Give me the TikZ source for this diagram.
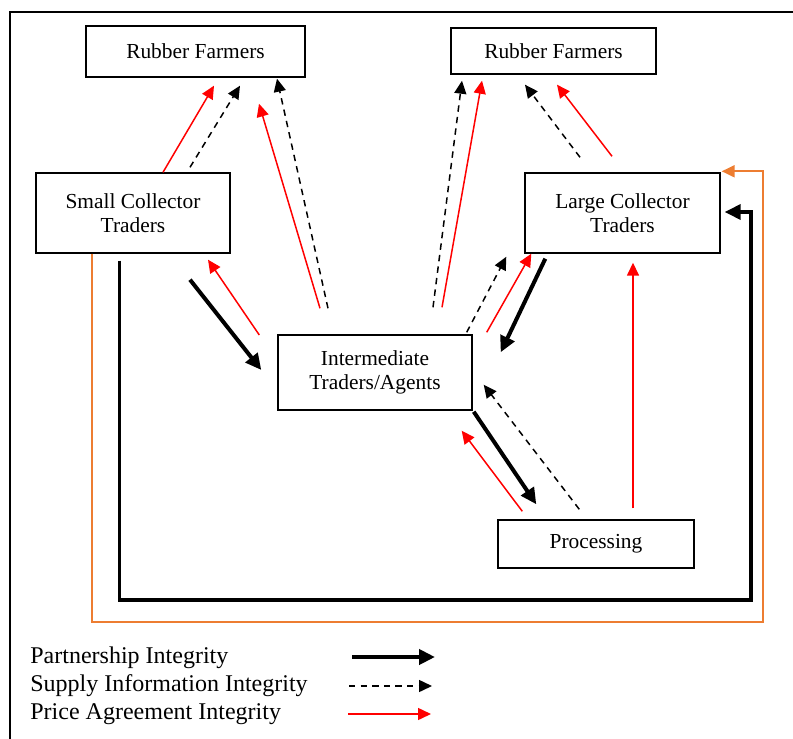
\documentclass[tikz,border=0pt]{standalone}
\usepackage{fontspec}
\setmainfont{Liberation Serif}
\usetikzlibrary{arrows.meta, positioning, calc}
\definecolor{loopOrange}{RGB}{237,125,49}

\begin{document}
\begin{tikzpicture}[
    x=0.5pt, y=-0.5pt,
    actor/.style={rectangle, draw, line width=0.7pt, inner sep=0pt, align=center, font=\fontsize{10.7}{12}\selectfont},
    partner/.style={-{Triangle[length=8pt,width=7.5pt]}, line width=2pt, black},
    supply/.style={-{Triangle[length=6.5pt,width=6pt]}, line width=0.75pt, black, dash pattern=on 3.2pt off 2.6pt},
    price/.style={-{Triangle[length=6.5pt,width=6pt]}, line width=0.75pt, red},
    orangeline/.style={-{Triangle[length=6.5pt,width=6pt]}, line width=1pt, loopOrange},
    legendtext/.style={anchor=west, inner sep=0pt, font=\fontsize{12}{14}\selectfont}
]
    \useasboundingbox (0,0) rectangle (793,739);

    % Frame
    \draw[line width=0.7pt] (10,739) -- (10,12) -- (793,12);

    % Actors
    \node[actor, minimum width=109.5pt, minimum height=25.5pt] (rf1) at (195.5,51.5) {Rubber Farmers};
    \node[actor, minimum width=102.5pt, minimum height=23pt] (rf2) at (553.5,51) {Rubber Farmers};
    \node[actor, minimum width=97pt, minimum height=40pt] (sct) at (133,213) {Small Collector\\Traders};
    \node[actor, minimum width=97.5pt, minimum height=40pt] (lct) at (622.5,213) {Large Collector\\Traders};
    \node[actor, minimum width=97pt, minimum height=37.5pt] (ita) at (375,372.5) {Intermediate\\Traders/Agents};
    \node[actor, minimum width=98pt, minimum height=24pt] (proc) at (596,544) {Processing};

    % Corners of the long loops
    \coordinate (pbr) at (751,600);
    \coordinate (obr) at (763,622);

    % Small collector side
    \draw[price] ($(sct.north)+(30,0)$) -- ($(rf1.south)+(18.5,8)$);
    \draw[supply] ($(sct.north)+(57,-5)$) -- ($(rf1.south)+(44.5,8)$);
    \draw[price] ($(ita.north)+(-55,-26)$) -- ($(rf1.south)+(63.5,26)$);
    \draw[supply] ($(ita.north)+(-47,-26)$) -- ($(rf1.south)+(81.5,1)$);
    \draw[partner] ($(sct.south)+(57,26)$) -- ($(ita.west)+(-16,-2.5)$);
    \draw[price] ($(ita.west)+(-18,-37.5)$) -- ($(sct.south)+(75,6)$);

    % Large collector side
    \draw[supply] ($(ita.north)+(58,-27)$) -- ($(rf2.south)+(-91.5,6)$);
    \draw[price] ($(ita.north)+(67,-27)$) -- ($(rf2.south)+(-71.5,6)$);
    \draw[supply] ($(lct.north)+(-42.5,-15)$) -- ($(rf2.south)+(-28.5,10)$);
    \draw[price] ($(lct.north)+(-10.5,-16)$) -- ($(rf2.south)+(3.5,10)$);
    \draw[supply] ($(ita.north east)+(-6,-2)$) -- ($(lct.south west)+(-18,3)$);
    \draw[price] ($(ita.north east)+(14,-2)$) -- ($(lct.south west)+(7,0)$);
    \draw[partner] ($(lct.south west)+(21,5)$) -- ($(ita.north east)+(28,18)$);
    \draw[price] ($(proc.north)+(37,-11)$) -- ($(lct.south)+(10.5,9)$);

    % Processing
    \draw[partner] ($(ita.south east)+(1,1)$) -- ($(proc.north west)+(39,-15)$);
    \draw[supply] ($(proc.north west)+(82,-10)$) -- ($(ita.south east)+(11,-26)$);
    \draw[price] ($(proc.north west)+(25,-8)$) -- ($(ita.south east)+(-11,20)$);

    % Long loops
    \draw[partner, line width=1.8pt] ($(sct.south west)+(84,7)$) |- (pbr) |- ($(lct.east)+(4,-1)$);
    \draw[orangeline] ($(sct.south west)+(57,0)$) |- (obr) |- ($(lct.north east)+(1,-1)$);

    % Legend
    \node[legendtext] (lg1) at (30,658) {Partnership Integrity};
    \node[legendtext] (lg2) at (30,686) {Supply Information Integrity};
    \node[legendtext] (lg3) at (30,714) {Price Agreement Integrity};
    \coordinate (ka1) at (352,657);
    \coordinate (kb1) at (435,657);
    \coordinate (ka2) at (349,686);
    \coordinate (kb2) at (432,686);
    \coordinate (ka3) at (348,714);
    \coordinate (kb3) at (431,714);
    \draw[partner] (ka1) -- (kb1);
    \draw[supply] (ka2) -- (kb2);
    \draw[price] (ka3) -- (kb3);

\end{tikzpicture}
\end{document}
